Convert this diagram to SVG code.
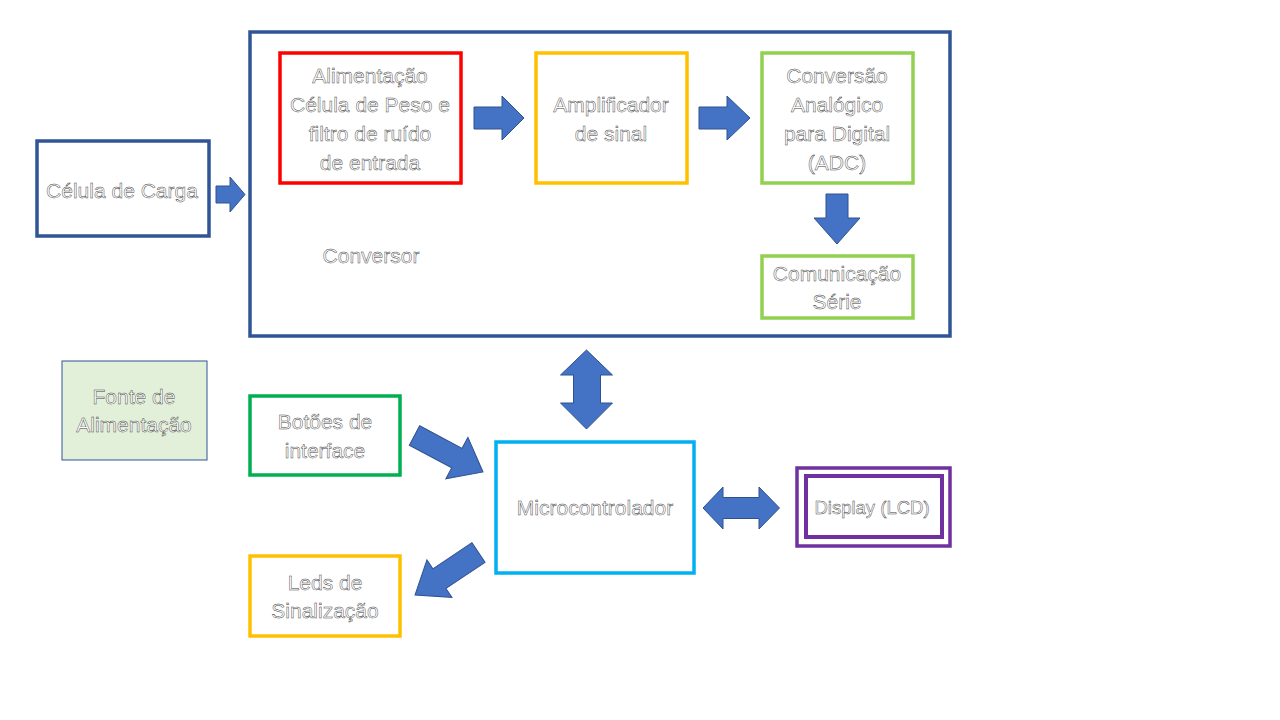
<svg xmlns="http://www.w3.org/2000/svg" width="1280" height="720" viewBox="0 0 1280 720">
<style>
.box{fill:#FFFFFF;stroke-width:3.5}
.t{font-family:"Liberation Sans",Arial,sans-serif;font-size:21px;fill:#FFFFFF;stroke:#404040;stroke-width:0.45;text-anchor:middle}
.arr{fill:#4472C4;stroke:#2F528F;stroke-width:1}
</style>
<rect x="0" y="0" width="1280" height="720" fill="#FFFFFF"/>

<g id="conversor">
<rect class="box" x="250" y="32" width="700" height="304" stroke="#2F5597" stroke-width="3"/>
<text class="t" x="371" y="263">Conversor</text>
</g>

<g id="celula">
<rect class="box" x="37" y="141" width="172" height="95" stroke="#2F5597"/>
<text class="t" x="122" y="198">Célula de Carga</text>
</g>

<g id="alimentacao">
<rect class="box" x="280" y="53" width="181" height="130" stroke="#FF0000"/>
<text class="t" x="370" y="83">Alimentação</text>
<text class="t" x="370" y="112">Célula de Peso e</text>
<text class="t" x="370" y="141">filtro de ruído</text>
<text class="t" x="370" y="170">de entrada</text>
</g>

<g id="amplificador">
<rect class="box" x="536" y="53" width="151" height="130" stroke="#FFC000"/>
<text class="t" x="611" y="112">Amplificador</text>
<text class="t" x="611" y="141">de sinal</text>
</g>

<g id="adc">
<rect class="box" x="762" y="53" width="151" height="130" stroke="#92D050"/>
<text class="t" x="837" y="83">Conversão</text>
<text class="t" x="837" y="112">Analógico</text>
<text class="t" x="837" y="141">para Digital</text>
<text class="t" x="837" y="170">(ADC)</text>
</g>

<g id="comunicacao">
<rect class="box" x="762" y="256" width="151" height="62" stroke="#92D050"/>
<text class="t" x="837" y="281">Comunicação</text>
<text class="t" x="837" y="309">Série</text>
</g>

<g id="fonte">
<rect x="62" y="361" width="145" height="99" fill="#E2EFD9" stroke="#2F5597" stroke-width="1"/>
<text class="t" x="134" y="404">Fonte de</text>
<text class="t" x="134" y="432">Alimentação</text>
</g>

<g id="botoes">
<rect class="box" x="250" y="396" width="150" height="79" stroke="#00B050"/>
<text class="t" x="325" y="429">Botões de</text>
<text class="t" x="325" y="458">interface</text>
</g>

<g id="microcontrolador">
<rect class="box" x="496" y="442" width="198" height="131" stroke="#00B0F0"/>
<text class="t" x="595" y="515">Microcontrolador</text>
</g>

<g id="display">
<rect class="box" x="797" y="468" width="153" height="78" stroke="#7030A0" stroke-width="4"/>
<rect fill="none" x="806" y="476" width="136" height="61" stroke="#7030A0" stroke-width="4"/>
<text class="t" x="872" y="514" style="font-size:18.5px">Display (LCD)</text>
</g>

<g id="leds">
<rect class="box" x="250" y="556" width="150" height="80" stroke="#FFC000"/>
<text class="t" x="325" y="590">Leds de</text>
<text class="t" x="325" y="618">Sinalização</text>
</g>

<g id="connectors">
<path class="arr" d="M216,186 L230,186 L230,177 L245,194.5 L230,212 L230,203 L216,203 Z"/>
<path class="arr" d="M474,107 L502,107 L502,96 L524,118 L502,140 L502,129 L474,129 Z"/>
<path class="arr" d="M699,107 L727,107 L727,96 L750,118 L727,140 L727,129 L699,129 Z"/>
<path class="arr" d="M826,194 L848,194 L848,218 L860,218 L837,244 L814,218 L826,218 Z"/>
<path class="arr" d="M586.5,350 L612.5,375 L600.5,375 L600.5,403 L612.5,403 L586.5,429 L560.5,403 L573.5,403 L573.5,375 L560.5,375 Z"/>
<path class="arr" d="M703,508 L723,487 L723,497.5 L759,497.5 L759,487 L779.5,508 L759,529 L759,518.5 L723,518.5 L723,529 Z"/>
<path class="arr" transform="translate(414.5,435.5) rotate(28)" d="M0,-11 L48,-11 L48,-23.5 L77.6,0 L48,23.5 L48,11 L0,11 Z"/>
<path class="arr" transform="translate(478.5,552.5) rotate(146.2)" d="M0,-11.8 L47,-11.8 L47,-22.5 L76.4,0 L47,22.5 L47,11.8 L0,11.8 Z"/>
</g>
</svg>
